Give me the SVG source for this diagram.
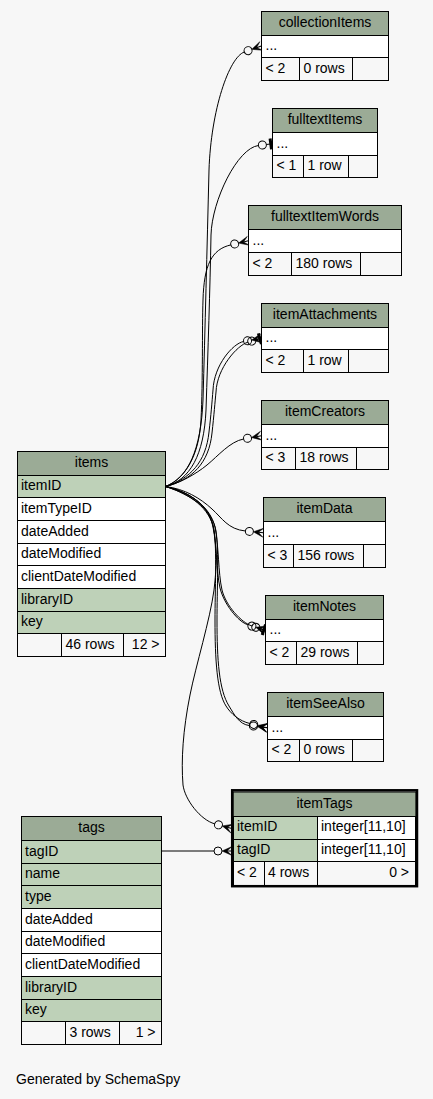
<svg xmlns="http://www.w3.org/2000/svg" width="433" height="1099" viewBox="0 0 433 1099">
<style>
text{font-family:"Liberation Sans",Arial,sans-serif;font-size:14px;fill:#000}
.c{text-anchor:middle}
.r{text-anchor:end}
.h{fill:#9bab96;stroke:#000;stroke-width:1}
.k{fill:#bed1b8;stroke:#000;stroke-width:1}
.w{fill:#fff;stroke:#000;stroke-width:1}
.f{fill:#f7f7f7;stroke:#000;stroke-width:1}
.e{fill:none;stroke:#000;stroke-width:1}
.ec{marker-end:url(#crow)}
.et{marker-end:url(#tee)}
</style>
<defs>
<marker id="crow" markerUnits="userSpaceOnUse" markerWidth="20" markerHeight="14" refX="0" refY="7" orient="auto" overflow="visible">
<circle cx="4" cy="7" r="4" fill="none" stroke="#000" stroke-width="1"/>
<path d="M8,7 L18,2.5 L13,7 L18,11.5 Z" fill="#000" stroke="#000" stroke-width="0.5"/>
<path d="M13,7 H18" stroke="#000" stroke-width="1"/>
</marker>
<marker id="tee" markerUnits="userSpaceOnUse" markerWidth="16" markerHeight="14" refX="0" refY="7" orient="auto" overflow="visible">
<circle cx="4" cy="7" r="4" fill="none" stroke="#000" stroke-width="1"/>
<path d="M8,7 H14" stroke="#000" stroke-width="1"/>
<rect x="11" y="1.5" width="3" height="11" fill="#000"/>
</marker>
</defs>
<rect x="0" y="0" width="433" height="1099" fill="#f7f7f7"/>

<g id="connectors">
<path class="e ec" d="M165.5,486.5 C188,478 201,450 203,400 C205,330 207,250 209,170 C211,110 229,57.4 244.3,52"/>
<path class="e et" d="M165.5,486.5 C190,480 204,455 206,410 C208,350 210,290 211,235 C212,200 237.5,148.2 258.4,145.5"/>
<path class="e ec" d="M165.5,486.5 C186,478 199,455 201,420 C203,380 202,330 203,300 C204,265 211.5,249.4 230.8,244.9"/>
<path class="e ec" d="M165.5,486.5 C190,479 206,462 209,432 C211,415 212,402 213,390 C214,365 233,343.4 243.6,341.5"/>
<path class="e et" d="M165.5,486.5 C192,480 209,463 212,433 C214,415 215,402 216,392 C217,368 237.2,345.3 247.9,342.2"/>
<path class="e ec" d="M165.5,486.5 C180,483 196,474 207,465 C218,456 230,441.5 243.6,439"/>
<path class="e ec" d="M165.5,486.5 C185,489 200,498 212,509 C222,518 228,529.3 245.4,531"/>
<path class="e ec" d="M165.5,486.5 C190,492 208,505 213,525 C217,545 216,570 220,588 C224,604 237.8,621.7 248.1,624.9"/>
<path class="e et" d="M165.5,486.5 C192,493 210,507 215,527 C219,547 218,572 222,590 C226,606 241.4,622.6 252,626"/>
<path class="e ec" d="M165.5,486.5 C190,494 210,508 214,530 C217,550 215,590 215,620 C215,660 217,692 226,706 C231,714 239.3,720.9 249.8,723.5"/>
<path class="e ec" d="M165.5,486.5 C192,495 212,509 216,531 C219,551 217,590 217,620 C217,660 219,690 229,706 C234,714 238.8,724.3 249.5,725.6"/>
<path class="e ec" d="M165.5,486.5 C190,492 209,506 213,527 C217,548 217,565 214,590 C210,620 196,665 190,695 C183,730 181,760 183,785 C185,800 200.7,820 214.6,823.8"/>
<path class="e ec" d="M161.5,851 L214,851"/>
</g>

<g id="collectionItems">
<rect class="h" x="261.5" y="11.5" width="127" height="24"/>
<rect class="w" x="261.5" y="35.5" width="127" height="22"/>
<rect class="f" x="261.5" y="57.5" width="38" height="23"/>
<rect class="f" x="299.5" y="57.5" width="53" height="23"/>
<rect class="f" x="352.5" y="57.5" width="36" height="23"/>
<text class="c" x="325" y="27">collectionItems</text>
<text x="265.5" y="49.5">...</text>
<text x="265.5" y="72.5">&lt; 2</text>
<text x="303.5" y="72.5">0 rows</text>
</g>

<g id="fulltextItems">
<rect class="h" x="272.5" y="108.5" width="105" height="24"/>
<rect class="w" x="272.5" y="132.5" width="105" height="23"/>
<rect class="f" x="272.5" y="155.5" width="31" height="22"/>
<rect class="f" x="303.5" y="155.5" width="45" height="22"/>
<rect class="f" x="348.5" y="155.5" width="29" height="22"/>
<text class="c" x="325" y="124">fulltextItems</text>
<text x="276.5" y="147.5">...</text>
<text x="276.5" y="169.5">&lt; 1</text>
<text x="307.5" y="169.5">1 row</text>
</g>

<g id="fulltextItemWords">
<rect class="h" x="248.5" y="205.5" width="153" height="24"/>
<rect class="w" x="248.5" y="229.5" width="153" height="23"/>
<rect class="f" x="248.5" y="252.5" width="43" height="23"/>
<rect class="f" x="291.5" y="252.5" width="69" height="23"/>
<rect class="f" x="360.5" y="252.5" width="41" height="23"/>
<text class="c" x="325" y="221">fulltextItemWords</text>
<text x="252.5" y="244.5">...</text>
<text x="252.5" y="267.5">&lt; 2</text>
<text x="295.5" y="267.5">180 rows</text>
</g>

<g id="itemAttachments">
<rect class="h" x="261.5" y="303.5" width="127" height="24"/>
<rect class="w" x="261.5" y="327.5" width="127" height="22"/>
<rect class="f" x="261.5" y="349.5" width="42" height="23"/>
<rect class="f" x="303.5" y="349.5" width="45" height="23"/>
<rect class="f" x="348.5" y="349.5" width="40" height="23"/>
<text class="c" x="325" y="319">itemAttachments</text>
<text x="265.5" y="341.5">...</text>
<text x="265.5" y="364.5">&lt; 2</text>
<text x="307.5" y="364.5">1 row</text>
</g>

<g id="itemCreators">
<rect class="h" x="261.5" y="400.5" width="127" height="24"/>
<rect class="w" x="261.5" y="424.5" width="127" height="23"/>
<rect class="f" x="261.5" y="447.5" width="34" height="22"/>
<rect class="f" x="295.5" y="447.5" width="61" height="22"/>
<rect class="f" x="356.5" y="447.5" width="32" height="22"/>
<text class="c" x="325" y="416">itemCreators</text>
<text x="265.5" y="439.5">...</text>
<text x="265.5" y="461.5">&lt; 3</text>
<text x="299.5" y="461.5">18 rows</text>
</g>

<g id="itemData">
<rect class="h" x="263.5" y="497.5" width="122" height="24"/>
<rect class="w" x="263.5" y="521.5" width="122" height="23"/>
<rect class="f" x="263.5" y="544.5" width="30" height="23"/>
<rect class="f" x="293.5" y="544.5" width="70" height="23"/>
<rect class="f" x="363.5" y="544.5" width="22" height="23"/>
<text class="c" x="324.5" y="513">itemData</text>
<text x="267.5" y="536.5">...</text>
<text x="267.5" y="559.5">&lt; 3</text>
<text x="297.5" y="559.5">156 rows</text>
</g>

<g id="itemNotes">
<rect class="h" x="265.5" y="595.5" width="118" height="24"/>
<rect class="w" x="265.5" y="619.5" width="118" height="22"/>
<rect class="f" x="265.5" y="641.5" width="31" height="23"/>
<rect class="f" x="296.5" y="641.5" width="61" height="23"/>
<rect class="f" x="357.5" y="641.5" width="26" height="23"/>
<text class="c" x="324.5" y="611">itemNotes</text>
<text x="269.5" y="633.5">...</text>
<text x="269.5" y="656.5">&lt; 2</text>
<text x="300.5" y="656.5">29 rows</text>
</g>

<g id="itemSeeAlso">
<rect class="h" x="267.5" y="692.5" width="116" height="24"/>
<rect class="w" x="267.5" y="716.5" width="116" height="23"/>
<rect class="f" x="267.5" y="739.5" width="32" height="22"/>
<rect class="f" x="299.5" y="739.5" width="53" height="22"/>
<rect class="f" x="352.5" y="739.5" width="31" height="22"/>
<text class="c" x="325.5" y="708">itemSeeAlso</text>
<text x="271.5" y="731.5">...</text>
<text x="271.5" y="753.5">&lt; 2</text>
<text x="303.5" y="753.5">0 rows</text>
</g>

<g id="items">
<rect class="h" x="17.5" y="451.5" width="148" height="24"/>
<rect class="k" x="17.5" y="475.5" width="148" height="22"/>
<rect class="w" x="17.5" y="497.5" width="148" height="23"/>
<rect class="w" x="17.5" y="520.5" width="148" height="23"/>
<rect class="w" x="17.5" y="543.5" width="148" height="22"/>
<rect class="w" x="17.5" y="565.5" width="148" height="23"/>
<rect class="k" x="17.5" y="588.5" width="148" height="23"/>
<rect class="k" x="17.5" y="611.5" width="148" height="22"/>
<rect class="f" x="17.5" y="633.5" width="44" height="23"/>
<rect class="f" x="61.5" y="633.5" width="62" height="23"/>
<rect class="f" x="123.5" y="633.5" width="42" height="23"/>
<text class="c" x="91.5" y="467">items</text>
<text x="21" y="489.5">itemID</text>
<text x="21" y="512.5">itemTypeID</text>
<text x="21" y="535.5">dateAdded</text>
<text x="21" y="557.5">dateModified</text>
<text x="21" y="580.5">clientDateModified</text>
<text x="21" y="603.5">libraryID</text>
<text x="21" y="625.5">key</text>
<text x="65.5" y="648.5">46 rows</text>
<text class="r" x="159.5" y="648.5">12 &gt;</text>
</g>

<g id="itemTags">
<rect class="h" x="233" y="792" width="183" height="24.5" stroke="none"/>
<rect class="k" x="233.5" y="816.5" width="84" height="23"/>
<rect class="w" x="317.5" y="816.5" width="98" height="23"/>
<rect class="k" x="233.5" y="839.5" width="84" height="22"/>
<rect class="w" x="317.5" y="839.5" width="98" height="22"/>
<rect class="f" x="233.5" y="861.5" width="31" height="24"/>
<rect class="f" x="264.5" y="861.5" width="53" height="24"/>
<rect class="f" x="317.5" y="861.5" width="98" height="24"/>
<rect x="232.2" y="790.3" width="184.8" height="95.9" fill="none" stroke="#000" stroke-width="2.5"/>
<text class="c" x="324.5" y="807.5">itemTags</text>
<text x="237" y="831">itemID</text>
<text x="321" y="831">integer[11,10]</text>
<text x="237" y="853.5">tagID</text>
<text x="321" y="853.5">integer[11,10]</text>
<text x="237" y="877">&lt; 2</text>
<text x="268" y="877">4 rows</text>
<text class="r" x="409" y="877">0 &gt;</text>
</g>

<g id="tags">
<rect class="h" x="21.5" y="816.5" width="140" height="24"/>
<rect class="k" x="21.5" y="840.5" width="140" height="23"/>
<rect class="k" x="21.5" y="863.5" width="140" height="22"/>
<rect class="k" x="21.5" y="885.5" width="140" height="23"/>
<rect class="w" x="21.5" y="908.5" width="140" height="23"/>
<rect class="w" x="21.5" y="931.5" width="140" height="22"/>
<rect class="w" x="21.5" y="953.5" width="140" height="23"/>
<rect class="k" x="21.5" y="976.5" width="140" height="23"/>
<rect class="k" x="21.5" y="999.5" width="140" height="22"/>
<rect class="f" x="21.5" y="1021.5" width="44" height="23"/>
<rect class="f" x="65.5" y="1021.5" width="54" height="23"/>
<rect class="f" x="119.5" y="1021.5" width="42" height="23"/>
<text class="c" x="91.5" y="832">tags</text>
<text x="25" y="855.5">tagID</text>
<text x="25" y="877.5">name</text>
<text x="25" y="900.5">type</text>
<text x="25" y="923.5">dateAdded</text>
<text x="25" y="945.5">dateModified</text>
<text x="25" y="968.5">clientDateModified</text>
<text x="25" y="991.5">libraryID</text>
<text x="25" y="1013.5">key</text>
<text x="69.5" y="1036.5">3 rows</text>
<text class="r" x="155.5" y="1036.5">1 &gt;</text>
</g>

<text x="16" y="1083.5">Generated by SchemaSpy</text>
</svg>
